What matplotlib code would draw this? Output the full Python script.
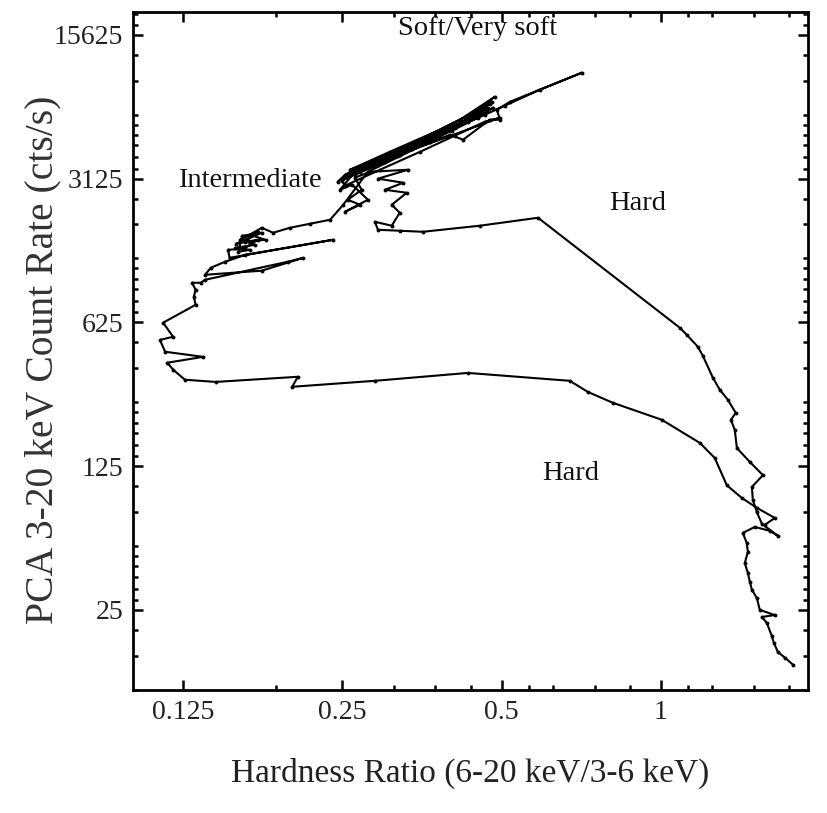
import matplotlib
matplotlib.use("Agg")
import matplotlib.pyplot as plt
from matplotlib.ticker import FixedLocator, NullFormatter

plt.rcParams['font.family'] = ['Liberation Serif', 'DejaVu Serif']

# Hardness ratio (6-20 keV / 3-6 keV), traced along the outburst track
hardness = [
    1.78, 1.72, 1.665, 1.636, 1.621, 1.587, 1.553, 1.643, 1.539, 1.519,
    1.487, 1.474, 1.461, 1.442, 1.461, 1.454, 1.429, 1.506, 1.608, 1.665,
    1.553, 1.519, 1.493, 1.487, 1.560, 1.474, 1.393, 1.380, 1.357, 1.386,
    1.339, 1.293, 1.255, 1.201, 1.175, 1.120, 1.087, 0.586, 0.455, 0.355,
    0.321, 0.292, 0.288, 0.310, 0.321, 0.310, 0.331, 0.301, 0.326, 0.292,
    0.333, 0.282, 0.264, 0.272, 0.256, 0.270, 0.253, 0.2795, 0.261, 0.2475,
    0.268, 0.253, 0.245,
    0.2946, 0.351, 0.417, 0.486, 0.436, 0.366, 0.321, 0.2845, 0.2585,
    0.3076, 0.3825, 0.455, 0.4795, 0.445, 0.3995, 0.336, 0.292, 0.264,
    0.2845, 0.3186, 0.358, 0.403, 0.451, 0.4817, 0.432, 0.3825, 0.3386,
    0.301, 0.270, 0.2497,
    0.253, 0.2946, 0.351, 0.408, 0.465, 0.4965,
    0.261, 0.3144, 0.374, 0.436, 0.475, 0.417, 0.358, 0.3076, 0.2665,
    0.321, 0.3995, 0.423, 0.475, 0.4965, 0.490, 0.519, 0.7095, 0.591, 0.507,
    0.465, 0.391, 0.336, 0.301, 0.270, 0.253,
    0.351, 0.408, 0.471, 0.366, 0.2795,
    0.251, 0.237, 0.217, 0.199, 0.185,
    0.176, 0.167, 0.179, 0.164, 0.173, 0.160, 0.171, 0.157, 0.167, 0.159,
    0.1616, 0.176, 0.1574, 0.173, 0.163, 0.152, 0.153,
    0.240, 0.164, 0.150, 0.141, 0.1375, 0.176, 0.211, 0.197, 0.1375, 0.135,
    0.130, 0.132, 0.131, 0.132, 0.1146, 0.1197, 0.113, 0.1156, 0.1364, 0.1167,
    0.1197, 0.126, 0.144, 0.206, 0.201, 0.288, 0.432, 0.673, 0.728, 0.812,
    1.005, 1.186, 1.265, 1.333, 1.423, 1.519, 1.643, 1.573,
]

# PCA 3-20 keV count rate (cts/s)
count_rate = [
    13.5, 14.6, 15.6, 17.3, 18.7, 21.6, 23.1, 23.6, 25.0, 28.6,
    31.3, 34.2, 37.8, 42.3, 47.9, 52.9, 59.2, 63.3, 60.6, 57.3,
    65.5, 74.9, 85.7, 99.1, 113, 131, 153, 188, 210, 227,
    263, 294, 336, 430, 476, 544, 588, 2017, 1845, 1724,
    1743, 1763, 1928, 1845, 2133, 2333, 2668, 2759, 2985, 3125,
    3453, 3375, 3157, 2759, 2467, 2333, 2157, 2467, 2918, 2759,
    3530, 3265, 3018,
    3950, 4832, 6045, 7823, 6392, 5110, 4320, 3777, 3453,
    4225, 5405, 6760, 7395, 6250, 5405, 4418, 3652, 3265,
    3611, 4038, 4672, 5345, 6181, 6913, 5911, 5053, 4368,
    3777, 3375, 3052,
    2888, 3453, 4225, 5053, 5911, 6181,
    3375, 4178, 5110, 6181, 7230, 5780, 4832, 3995, 3415,
    4085, 5110, 4832, 6045, 6045, 6760, 7395, 10233, 8460, 7071,
    6392, 5285, 4517, 3862, 3453, 3229,
    4568, 5528, 6913, 4725, 3375,
    2333, 1972, 1886, 1803, 1705,
    1803, 1667, 1576, 1542, 1724, 1576, 1490, 1442, 1409, 1378,
    1648, 1705, 1508, 1576, 1425, 1409, 1288,
    1576, 1332, 1232, 1152, 1065, 1115, 1288, 1232, 1007, 974,
    974, 900, 833, 761, 623, 532, 514, 450, 425, 398,
    368, 329, 321, 340, 304, 325, 355, 325, 287, 254,
    210, 162, 137, 101, 87.6, 78.4, 70.0, 64.8,
]

x_major = [0.125, 0.25, 0.5, 1]
x_major_labels = ['0.125', '0.25', '0.5', '1']
y_major = [25, 125, 625, 3125, 15625]
y_major_labels = ['25', '125', '625', '3125', '15625']

region_labels = ['Soft/Very soft', 'Intermediate', 'Hard', 'Hard']
region_pos = [(0.510, 0.976), (0.173, 0.752), (0.748, 0.718), (0.649, 0.320)]

fig = plt.figure(figsize=(8.28, 8.13), dpi=100)
ax = fig.add_axes([0.1606, 0.1513, 0.8152, 0.834])

ax.plot(hardness, count_rate, color='black', lw=1.5, marker='o',
        markersize=2.8, markerfacecolor='black', markeredgewidth=0)

ax.set_xscale('log', base=2)
ax.set_yscale('log', base=5)
ax.set_xlim(0.1005, 1.898)
ax.set_ylim(10.2, 20200)

ax.xaxis.set_major_locator(FixedLocator(x_major))
ax.set_xticklabels(x_major_labels)
ax.yaxis.set_major_locator(FixedLocator(y_major))
ax.set_yticklabels(y_major_labels)

x_minor = [0.1875, 0.3125, 0.375, 0.4375, 0.5625, 0.625, 0.75, 0.875,
           1.125, 1.25, 1.5, 1.75]
y_minor = []
for base in [5, 25, 125, 625, 3125, 15625]:
    for m in [1.12, 1.27, 1.45, 1.63, 1.83, 2.05, 3, 4]:
        y_minor.append(base * m)
ax.xaxis.set_minor_locator(FixedLocator(x_minor))
ax.yaxis.set_minor_locator(FixedLocator(y_minor))
ax.xaxis.set_minor_formatter(NullFormatter())
ax.yaxis.set_minor_formatter(NullFormatter())

ax.tick_params(which='both', direction='in', top=True, right=True,
               width=1.8, colors='black')
ax.tick_params(which='major', length=7, labelsize=20, pad=7, labelcolor='#222222')
ax.tick_params(which='minor', length=3.5)
for s in ax.spines.values():
    s.set_linewidth(2.0)

ax.set_xlabel('Hardness Ratio (6-20 keV/3-6 keV)', fontsize=24, color='#222222',
              labelpad=24)
ax.set_ylabel('PCA 3-20 keV Count Rate (cts/s)', fontsize=28.5, color='#333333')
ax.yaxis.set_label_coords(-0.106, 0.487)

for txt, (px, py) in zip(region_labels, region_pos):
    ax.text(px, py, txt, transform=ax.transAxes, ha='center', va='center',
            fontsize=20.5, color='#111111')

fig.savefig('out.png', dpi=100)
